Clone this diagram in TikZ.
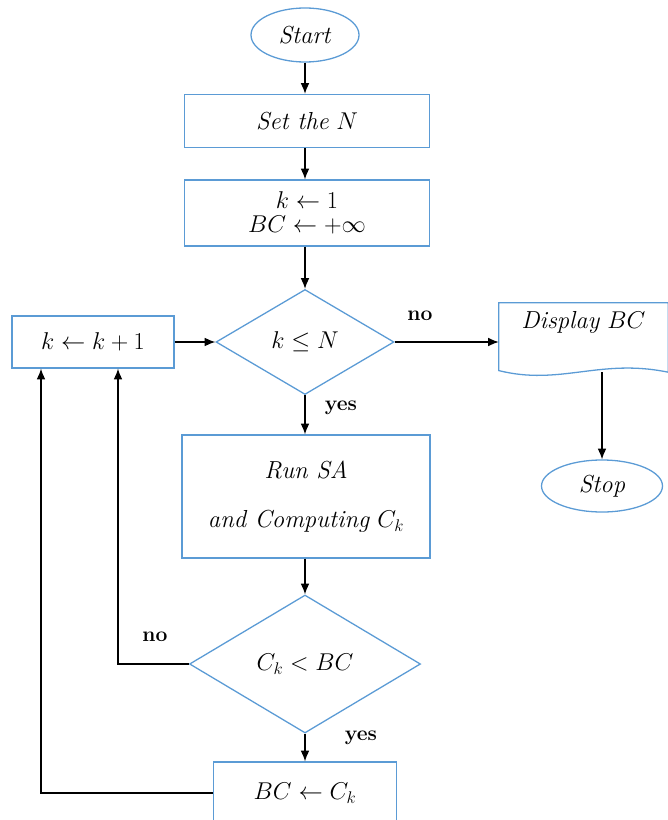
\documentclass[tikz,border=0pt]{standalone}
\usepackage{amsmath}
\usepackage{tikz}
\usetikzlibrary{positioning}
\usetikzlibrary{shapes.geometric}
\usetikzlibrary{arrows.meta}
\definecolor{flowblue}{RGB}{91,155,213}

\begin{document}
\begin{tikzpicture}[x=0.03cm, y=-0.03cm,
    every node/.style={font=\fontsize{21}{24}\selectfont},
    term/.style={draw=flowblue, line width=1.1pt, ellipse, inner sep=0pt},
    proc/.style={draw=flowblue, line width=1.1pt, rectangle, inner sep=2pt},
    test/.style={draw=flowblue, line width=1.1pt, diamond, inner sep=0pt},
    lbl/.style={font=\fontsize{18}{20}\selectfont\bfseries},
    flow/.style={-{Latex[length=3.2mm, width=2.6mm]}, line width=1pt}]
            \useasboundingbox (0,0) rectangle (667,820);
            % Nodos
            \node[term, minimum width=3.24cm, minimum height=1.62cm] (start) at (305,35) {\textit{Start}};
            \node[proc, minimum width=7.35cm, minimum height=1.59cm] (setn) at (307,121) {\textit{Set the} $N$};
            \node[proc, minimum width=7.35cm, minimum height=1.98cm, align=center] (init) at (307,213) {$k \leftarrow 1$\\[-4pt] $BC \leftarrow +\infty$};
            \node[test, minimum width=5.34cm, minimum height=3.15cm] (cond1) at (305,342) {$k \leq N$};
            \node[proc, minimum width=4.86cm, minimum height=1.56cm] (inc) at (93,342) {$k \leftarrow k+1$};
            \node[minimum width=5.07cm, minimum height=2.07cm, inner sep=0pt] (disp) at (583.5,337.5) {};
            \node[below=4pt of disp.north] (disptext) {\textit{Display} $BC$};
            \node[term, minimum width=3.63cm, minimum height=1.56cm] (stop) at (602,486) {\textit{Stop}};
            \node[proc, minimum width=7.44cm, minimum height=3.69cm, align=center] (run) at (306,496.5) {\textit{Run SA}\\[18pt] \textit{and Computing} $C_k$};
            \node[test, minimum width=6.93cm, minimum height=4.14cm] (cond2) at (305,664) {$C_k < BC$};
            \node[proc, minimum width=5.49cm, minimum height=1.86cm] (upd) at (305,793) {$BC \leftarrow C_k$};

            % Hoja del documento
            \draw[draw=flowblue, line width=1.1pt] ([yshift=0.05cm]disp.south west) -- (disp.north west) -- (disp.north east) -- (disp.south east)
                .. controls (600,358) and (560,386) .. ([yshift=0.05cm]disp.south west) -- cycle;

            % Etiquetas
            \node[lbl] (no1) at (420,316) {no};
            \node[lbl] (yes1) at (341,408) {yes};
            \node[lbl] (no2) at (155,637) {no};
            \node[lbl] (yes2) at (361,738) {yes};

            % Aristas
            \draw[flow] (start) -- (start |- setn.north);
            \draw[flow] (start |- setn.south) -- (start |- init.north);
            \draw[flow] (start |- init.south) -- (cond1);
            \draw[flow] (inc) -- (cond1);
            \draw[flow] (cond1.east) -- (cond1.east -| disp.west);
            \draw[flow] (stop |- disp.south) -- (stop);
            \draw[flow] (cond1) -- (cond1 |- run.north);
            \draw[flow] (cond1 |- run.south) -- (cond2);
            \draw[flow] (cond2) -- (upd);
            \draw[flow] (cond2.west) -| ([xshift=0.75cm]inc.south);
            \draw[flow] (upd.west) -| ([xshift=-1.56cm]inc.south);
          \end{tikzpicture}
\end{document}
